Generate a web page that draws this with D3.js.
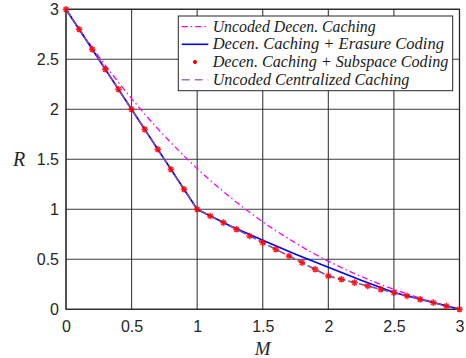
<!DOCTYPE html>
<html>
<head>
<meta charset="utf-8">
<script src="https://cdn.jsdelivr.net/npm/d3@7"></script>
<style>
  body { margin: 0; background: #fff; }
  svg { display: block; }
</style>
</head>
<body>
<svg id="chart" width="466" height="358"></svg>
<script>
// cache size M, in 0.1 steps
const mSteps = [0, 0.1, 0.2, 0.3, 0.4, 0.5, 0.6, 0.7, 0.8, 0.9, 1.0,
  1.1, 1.2, 1.3, 1.4, 1.5, 1.6, 1.7, 1.8, 1.9, 2.0,
  2.1, 2.2, 2.3, 2.4, 2.5, 2.6, 2.7, 2.8, 2.9, 3.0]

// uncoded decentralized caching (magenta dash-dot)
const uncodedDecen = [3, 2.804, 2.618, 2.439, 2.269, 2.107, 1.952, 1.805, 1.666, 1.533, 1.407,
  1.289, 1.176, 1.070, 0.970, 0.875, 0.786, 0.703, 0.624, 0.550, 0.481,
  0.417, 0.357, 0.301, 0.248, 0.199, 0.154, 0.111, 0.071, 0.035, 0]

// decentralized caching + subspace coding (red stars)
const subspace = [3, 2.8, 2.6, 2.4, 2.2, 2.0, 1.8, 1.6, 1.4, 1.2, 1.0,
  0.933, 0.867, 0.8, 0.733, 0.667, 0.6, 0.533, 0.467, 0.4, 0.333,
  0.3, 0.267, 0.233, 0.2, 0.167, 0.133, 0.1, 0.067, 0.033, 0]

// decentralized caching + erasure coding (blue)
const erasureM = [0, 1, 1.25, 1.5, 1.75, 2, 2.25, 2.5, 3]
const erasureR = [3, 1, 0.835, 0.69, 0.55, 0.42, 0.29, 0.167, 0]

// uncoded centralized caching (purple dashed)
const centralM = [0, 1, 2, 3]
const centralR = [3, 1, 0.333, 0]

const xTicks = [0, 0.5, 1, 1.5, 2, 2.5, 3]
const yTicks = [0, 0.5, 1, 1.5, 2, 2.5, 3]

const legendLabels = ['Uncoded Decen. Caching', 'Decen. Caching + Erasure Coding',
  'Decen. Caching + Subspace Coding', 'Uncoded Centralized Caching']

const svg = d3.select('#chart')
const x = d3.scaleLinear().domain([0, 3]).range([66, 459.5])
const y = d3.scaleLinear().domain([0, 3]).range([309.3, 9.3])
const gridColor = '#262626'

// grid
svg.append('g').selectAll('line').data(xTicks).enter().append('line')
  .attr('x1', d => x(d)).attr('x2', d => x(d))
  .attr('y1', y(0)).attr('y2', y(3))
  .attr('stroke', gridColor).attr('stroke-width', 1.1).attr('stroke-opacity', 0.9)
svg.append('g').selectAll('line').data(yTicks).enter().append('line')
  .attr('y1', d => y(d)).attr('y2', d => y(d))
  .attr('x1', x(0)).attr('x2', x(3))
  .attr('stroke', gridColor).attr('stroke-width', 1.1).attr('stroke-opacity', 0.9)

// axes
const xAxis = svg.append('g').attr('transform', `translate(0,${y(0)})`)
  .call(d3.axisBottom(x).tickValues(xTicks).tickFormat(d3.format('')).tickSize(0).tickPadding(11))
const yAxis = svg.append('g').attr('transform', `translate(${x(0)},0)`)
  .call(d3.axisLeft(y).tickValues(yTicks).tickFormat(d3.format('')).tickSize(0).tickPadding(7))
for (const ax of [xAxis, yAxis]) {
  ax.select('.domain').remove()
  ax.selectAll('text')
    .attr('font-family', 'Liberation Sans, Arial, sans-serif')
    .attr('font-size', '16px')
    .attr('fill', '#262626')
}

// box
svg.append('rect')
  .attr('x', x(0)).attr('y', y(3))
  .attr('width', x(3) - x(0)).attr('height', y(0) - y(3))
  .attr('fill', 'none').attr('stroke', gridColor).attr('stroke-width', 1.2)

const line = d3.line().x(d => x(d[0])).y(d => y(d[1]))

svg.append('path')
  .attr('d', line(d3.zip(mSteps, uncodedDecen)))
  .attr('fill', 'none').attr('stroke', '#ff00ff').attr('stroke-width', 1.3)
  .attr('stroke-dasharray', '6,3,1.5,3')

svg.append('path')
  .attr('d', line(d3.zip(erasureM, erasureR)))
  .attr('fill', 'none').attr('stroke', '#0000ff').attr('stroke-width', 1.6)

svg.append('path')
  .attr('d', line(d3.zip(centralM, centralR)))
  .attr('fill', 'none').attr('stroke', '#8a4a9e').attr('stroke-width', 1.6)
  .attr('stroke-dasharray', '8,3')

function starPath(s) {
  const h = s * 0.7
  return `M${-s},0L${s},0M0,${-s}L0,${s}M${-h},${-h}L${h},${h}M${-h},${h}L${h},${-h}`
}

svg.append('g').selectAll('path').data(d3.zip(mSteps, subspace)).enter().append('path')
  .attr('transform', d => `translate(${x(d[0])},${y(d[1])})`)
  .attr('d', starPath(3.3))
  .attr('stroke', '#ff0000').attr('stroke-width', 1.5).attr('fill', 'none')
  .attr('stroke-opacity', 0.85)

// axis labels
svg.append('text')
  .attr('x', x(1.5)).attr('y', 355)
  .attr('text-anchor', 'middle')
  .attr('font-family', 'Liberation Serif, Times New Roman, serif')
  .attr('font-style', 'italic').attr('font-size', '19px')
  .attr('fill', '#262626')
  .text('M')
svg.append('text')
  .attr('x', 19).attr('y', y(1.5) + 7)
  .attr('text-anchor', 'middle')
  .attr('font-family', 'Liberation Serif, Times New Roman, serif')
  .attr('font-style', 'italic').attr('font-size', '20px')
  .attr('fill', '#262626')
  .text('R')

// legend
const lg = svg.append('g')
lg.append('rect')
  .attr('x', 178.3).attr('y', 16).attr('width', 274.4).attr('height', 74.7)
  .attr('fill', '#fff').attr('stroke', gridColor).attr('stroke-width', 1)
const rowY = [26.7, 44.3, 62, 79.7]
const textW = [163, 231.3, 235.6, 196.6]
legendLabels.forEach((lab, i) => {
  const yy = rowY[i]
  if (i === 0) {
    lg.append('line').attr('x1', 181.7).attr('x2', 208.3).attr('y1', yy).attr('y2', yy)
      .attr('stroke', '#ff00ff').attr('stroke-width', 1.3).attr('stroke-dasharray', '6,3,1.5,3')
  } else if (i === 1) {
    lg.append('line').attr('x1', 181.7).attr('x2', 208.3).attr('y1', yy).attr('y2', yy)
      .attr('stroke', '#0000ff').attr('stroke-width', 1.6)
  } else if (i === 2) {
    lg.append('path').attr('transform', `translate(195,${yy})`).attr('d', starPath(2))
      .attr('stroke', '#ff0000').attr('stroke-width', 1.5).attr('fill', 'none')
  } else {
    lg.append('line').attr('x1', 181.7).attr('x2', 208.3).attr('y1', yy).attr('y2', yy)
      .attr('stroke', '#a070c0').attr('stroke-width', 1.6).attr('stroke-dasharray', '8,5')
  }
  lg.append('text')
    .attr('x', 212.7).attr('y', yy + 5)
    .attr('font-family', 'Liberation Serif, Times New Roman, serif')
    .attr('font-style', 'italic').attr('font-size', '16px')
    .attr('fill', '#1a1a1a')
    .attr('textLength', textW[i]).attr('lengthAdjust', 'spacingAndGlyphs')
    .text(lab)
})
</script>
</body>
</html>
